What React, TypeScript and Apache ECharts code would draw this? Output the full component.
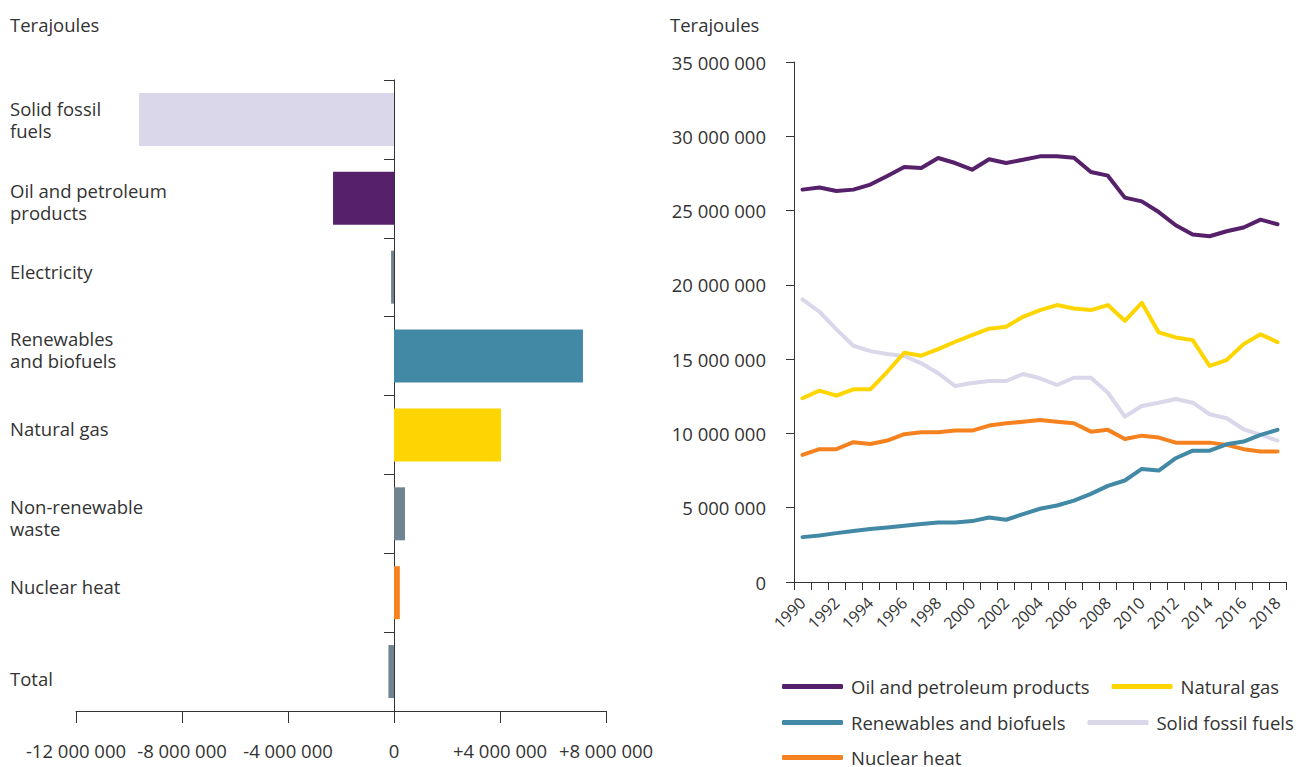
import React, { useEffect, useRef } from "react";
import * as echarts from "echarts";

// ---- Left chart: change by fuel (terajoules)
const fuelCategories = [
  "Solid fossil\nfuels",
  "Oil and petroleum\nproducts",
  "Electricity",
  "Renewables\nand biofuels",
  "Natural gas",
  "Non-renewable\nwaste",
  "Nuclear heat",
  "Total",
];
const fuelChange = [-9620000, -2300000, -110000, 7130000, 4040000, 415000, 220000, -210000];
const changeTicks = { min: -12000000, max: 8000000, interval: 4000000 };

// ---- Right chart: consumption 1990-2018 (terajoules)
const years = [
  "1990", "1991", "1992", "1993", "1994", "1995", "1996", "1997", "1998", "1999",
  "2000", "2001", "2002", "2003", "2004", "2005", "2006", "2007", "2008", "2009",
  "2010", "2011", "2012", "2013", "2014", "2015", "2016", "2017", "2018",
];
const oilSeries = [
  26410000, 26550000, 26320000, 26410000, 26750000, 27330000, 27930000, 27860000, 28540000, 28200000,
  27750000, 28450000, 28200000, 28420000, 28650000, 28650000, 28560000, 27600000, 27350000, 25870000,
  25620000, 24900000, 24010000, 23390000, 23270000, 23610000, 23860000, 24390000, 24080000,
];
const gasSeries = [
  12370000, 12880000, 12540000, 12970000, 12970000, 14150000, 15430000, 15230000, 15680000, 16170000,
  16620000, 17050000, 17180000, 17850000, 18300000, 18640000, 18410000, 18300000, 18640000, 17580000,
  18790000, 16800000, 16460000, 16280000, 14540000, 14940000, 16010000, 16670000, 16150000,
];
const renewSeries = [
  3020000, 3130000, 3290000, 3430000, 3560000, 3670000, 3780000, 3900000, 4000000, 4000000,
  4100000, 4340000, 4190000, 4570000, 4930000, 5150000, 5480000, 5930000, 6470000, 6830000,
  7610000, 7500000, 8330000, 8840000, 8840000, 9270000, 9450000, 9900000, 10240000,
];
const solidSeries = [
  19020000, 18190000, 17000000, 15900000, 15540000, 15340000, 15210000, 14720000, 14050000, 13190000,
  13390000, 13530000, 13530000, 14000000, 13710000, 13260000, 13750000, 13750000, 12740000, 11130000,
  11850000, 12070000, 12320000, 12070000, 11290000, 11020000, 10280000, 9900000, 9520000,
];
const nuclearSeries = [
  8550000, 8940000, 8940000, 9410000, 9290000, 9520000, 9950000, 10080000, 10080000, 10190000,
  10190000, 10530000, 10680000, 10790000, 10910000, 10790000, 10680000, 10120000, 10240000, 9630000,
  9850000, 9720000, 9380000, 9380000, 9380000, 9230000, 8940000, 8780000, 8780000,
];
const levelTicks = { min: 0, max: 35000000, interval: 5000000 };

const seriesNames = {
  oil: "Oil and petroleum products",
  gas: "Natural gas",
  renew: "Renewables and biofuels",
  solid: "Solid fossil fuels",
  nuclear: "Nuclear heat",
};

const COLORS = {
  oil: "#56206a",
  gas: "#ffd500",
  renew: "#4189a5",
  solid: "#d9d7e9",
  nuclear: "#f5821f",
  grey: "#6f8390",
};
const barColors = [COLORS.solid, COLORS.oil, COLORS.grey, COLORS.renew, COLORS.gas, COLORS.grey, COLORS.nuclear, COLORS.grey];
// category label vertical nudge in px (style only; negative = up)
const labelNudge = [0, 3, -6, -7, -6, 4, -6, 7];

const FONT = "Open Sans";
const FS = 18.5;
const TEXT = "#333333";
const AXIS = "#333333";

const fmt = (v: number) => {
  const s = Math.abs(Math.round(v)).toString().replace(/\B(?=(\d{3})+(?!\d))/g, " ");
  return (v < 0 ? "-" : "") + s;
};

const gapRich: Record<string, any> = {};
[6, 8, 12, 14].forEach((h) => {
  gapRich["g" + h] = { fontSize: 1, lineHeight: h };
});

export default function App() {
  const ref = useRef<HTMLDivElement>(null);
  useEffect(() => {
    if (!ref.current) return;
    const chart = echarts.init(ref.current, undefined, { renderer: "svg" });
    const lineSeries = (key: keyof typeof seriesNames, data: number[], z: number) => ({
      type: "line",
      name: seriesNames[key],
      xAxisIndex: 1,
      yAxisIndex: 1,
      data,
      showSymbol: false,
      symbol: "none",
      z,
      lineStyle: { color: COLORS[key], width: 4, cap: "round", join: "round" },
      itemStyle: { color: COLORS[key] },
    });
    const legendBase = {
      left: 782,
      orient: "horizontal",
      icon: "roundRect",
      itemWidth: 61,
      itemHeight: 5,
      itemGap: 22,
      padding: 0,
      textStyle: { fontFamily: FONT, fontSize: FS, lineHeight: 18, color: TEXT, padding: [0, 0, 0, 3] },
    };
    const catFormatter = (value: string, index: number) => {
      const n = labelNudge[index] || 0;
      if (n === 0) return value;
      const g = `{g${Math.abs(n) * 2}| }`;
      return n < 0 ? `${value}\n${g}` : `${g}\n${value}`;
    };
    chart.setOption({
      animation: false,
      textStyle: { fontFamily: FONT },
      graphic: [
        { type: "text", left: 10, top: 15, style: { text: "Terajoules", font: `${FS}px "${FONT}"`, fill: TEXT } },
        { type: "text", left: 670, top: 15, style: { text: "Terajoules", font: `${FS}px "${FONT}"`, fill: TEXT } },
      ],
      grid: [
        { left: 76, right: 693, top: 80, bottom: 56, containLabel: false, outerBoundsMode: "none" },
        { left: 794, right: 13, top: 62, bottom: 185, containLabel: false, outerBoundsMode: "none" },
      ],
      legend: [
        { ...legendBase, top: 677, data: [seriesNames.oil, seriesNames.gas] },
        { ...legendBase, top: 713, data: [seriesNames.renew, seriesNames.solid] },
        { ...legendBase, top: 748, data: [seriesNames.nuclear] },
      ],
      xAxis: [
        {
          type: "value",
          gridIndex: 0,
          min: changeTicks.min,
          max: changeTicks.max,
          interval: changeTicks.interval,
          splitLine: { show: false },
          axisLine: { show: true, onZero: false, lineStyle: { color: AXIS, width: 1 } },
          axisTick: { show: true, length: 12, lineStyle: { color: AXIS } },
          axisLabel: {
            margin: 30,
            fontSize: FS,
            color: TEXT,
            fontFamily: FONT,
            hideOverlap: false,
            formatter: (v: number) => (v > 0 ? "+" : "") + fmt(v),
          },
        },
        {
          type: "category",
          gridIndex: 1,
          data: years,
          boundaryGap: true,
          axisLine: { lineStyle: { color: AXIS, width: 1 } },
          axisTick: { show: true, interval: 0, length: 8, lineStyle: { color: AXIS } },
          axisLabel: { interval: 1, rotate: 45, margin: 18, fontSize: 16, color: TEXT, fontFamily: FONT },
        },
      ],
      yAxis: [
        {
          type: "category",
          gridIndex: 0,
          inverse: true,
          data: fuelCategories,
          axisLine: { show: true, onZero: true, lineStyle: { color: AXIS, width: 1 } },
          axisTick: { show: true, length: 10, lineStyle: { color: AXIS } },
          axisLabel: {
            show: true,
            margin: 66,
            align: "left",
            fontSize: FS,
            lineHeight: 22,
            color: TEXT,
            fontFamily: FONT,
            formatter: catFormatter,
            rich: gapRich,
          },
        },
        {
          type: "value",
          gridIndex: 1,
          min: levelTicks.min,
          max: levelTicks.max,
          interval: levelTicks.interval,
          splitLine: { show: false },
          axisLine: { show: true, lineStyle: { color: AXIS, width: 1 } },
          axisTick: { show: true, length: 8, lineStyle: { color: AXIS } },
          axisLabel: { margin: 28, fontSize: FS, color: TEXT, fontFamily: FONT, formatter: (v: number) => fmt(v) },
        },
      ],
      series: [
        {
          type: "bar",
          xAxisIndex: 0,
          yAxisIndex: 0,
          barWidth: 53,
          data: fuelChange.map((v, i) => ({ value: v, itemStyle: { color: barColors[i] } })),
        },
        lineSeries("solid", solidSeries, 2),
        lineSeries("nuclear", nuclearSeries, 3),
        lineSeries("renew", renewSeries, 4),
        lineSeries("gas", gasSeries, 5),
        lineSeries("oil", oilSeries, 6),
      ],
    });
    return () => chart.dispose();
  }, []);
  return (
    <div
      ref={ref}
      style={{ position: "fixed", left: 0, top: 0, width: 1299, height: 767, background: "#ffffff" }}
    />
  );
}
